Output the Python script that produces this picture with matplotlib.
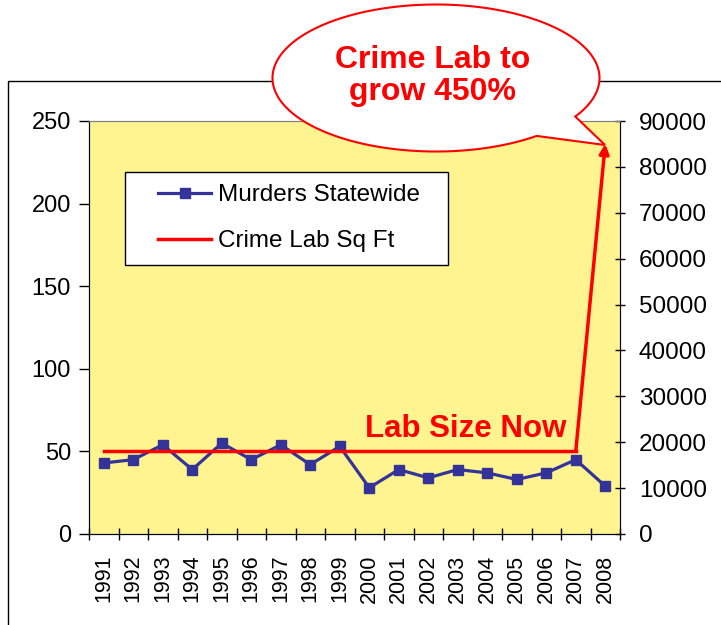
import numpy as np
import matplotlib.pyplot as plt
from matplotlib.patches import Polygon, Rectangle

plt.rcParams['font.family'] = ['Liberation Sans', 'DejaVu Sans']

years = ['1991', '1992', '1993', '1994', '1995', '1996', '1997', '1998', '1999',
         '2000', '2001', '2002', '2003', '2004', '2005', '2006', '2007', '2008']
murders = [43, 45, 54, 39, 55, 45, 54, 42, 53, 28, 39, 34, 39, 37, 33, 37, 45, 29]
lab_sqft = [18000] * 17 + [85000]

W, H = 721, 625
fig = plt.figure(figsize=(W / 100, H / 100), dpi=100)

# outer chart frame (cut off at right and bottom like the original)
fig.patches.append(Rectangle((8 / W, -0.1), 1.0, (625 - 81) / H + 0.1,
                             transform=fig.transFigure, fill=False,
                             edgecolor='black', linewidth=1.0, zorder=0))

ax = fig.add_axes([89 / W, (H - 534) / H, 531 / W, 413 / H])
ax.set_facecolor('#FFF48F')
x = np.arange(len(years))

ax.plot(x, murders, color='#333399', linewidth=2.3, marker='s',
        markersize=7.5, label='Murders Statewide', zorder=3)
ax.set_xlim(-0.5, len(years) - 0.5)
ax.set_ylim(0, 250)
ax.set_yticks(range(0, 251, 50))
ax.set_xticks(x)
ax.set_xticklabels(years, rotation=90, fontsize=15.5)
ax.set_xticks(np.arange(-0.5, len(years), 1.0), minor=True)
ax.tick_params(axis='x', which='major', length=0, pad=15)
ax.tick_params(axis='x', which='minor', length=8, direction='inout', width=1)
ax.tick_params(axis='y', labelsize=17, length=7, direction='out', width=1, pad=6)
for side in ['top', 'right']:
    ax.spines[side].set_color('#808080')
ax.spines['left'].set_color('black')
ax.spines['bottom'].set_color('black')

ax2 = ax.twinx()
ax2.plot(x[:17], lab_sqft[:17], color='#FF0000', linewidth=2.5,
         label='Crime Lab Sq Ft', zorder=3)
ax2.annotate('', xy=(x[17], lab_sqft[17]), xytext=(x[16], lab_sqft[16]),
             arrowprops=dict(arrowstyle='-|>', color='#FF0000', lw=2.5,
                             mutation_scale=14, shrinkA=0, shrinkB=0))
ax2.set_ylim(0, 90000)
ax2.set_yticks(range(0, 90001, 10000))
ax2.tick_params(axis='y', labelsize=17.5, length=7, direction='inout', width=1, pad=10)
ax2.spines['right'].set_color('black')
ax2.spines['top'].set_color('#808080')

# legend box drawn separately so its padding matches the original
ax2.add_patch(Rectangle(((125 - 89) / 531, (534 - 265) / 413), 323 / 531, 93 / 413,
                        transform=ax.transAxes, facecolor='white',
                        edgecolor='black', linewidth=1.0, zorder=8))
h1, l1 = ax.get_legend_handles_labels()
h2, l2 = ax2.get_legend_handles_labels()
leg = ax2.legend(h1 + h2, l1 + l2, loc='upper left',
                 bbox_to_anchor=((158 - 89) / 531, (534 - 184) / 413),
                 fontsize=17.5, frameon=False, handlelength=2.2,
                 handletextpad=0.25, labelspacing=1.0, borderpad=0,
                 borderaxespad=0, markerscale=0.9)
leg.set_zorder(9)

ax2.text((365 - 89) / 531, (534 - 429) / 413, 'Lab Size Now', transform=ax.transAxes,
         color='#FF0000', fontsize=22.5, fontweight='bold', ha='left', va='center')

# speech bubble
cx, cy, a, b = 436, H - 78, 163.5, 73.5
t = np.radians(np.linspace(-31.6, 308, 200))
pts = [((cx + a * np.cos(tt)) / W, (cy + b * np.sin(tt)) / H) for tt in t]
pts.append((605 / W, (H - 145) / H))
fig.patches.append(Polygon(pts, closed=True, transform=fig.transFigure,
                           facecolor='white', edgecolor='#FF0000',
                           linewidth=1.5, zorder=5))
fig.text(433 / W, (H - 76) / H, 'Crime Lab to\ngrow 450%', color='#FF0000',
         fontsize=23, fontweight='bold', ha='center', va='center',
         linespacing=1.1, zorder=6)

fig.savefig('out.png', dpi=100)
